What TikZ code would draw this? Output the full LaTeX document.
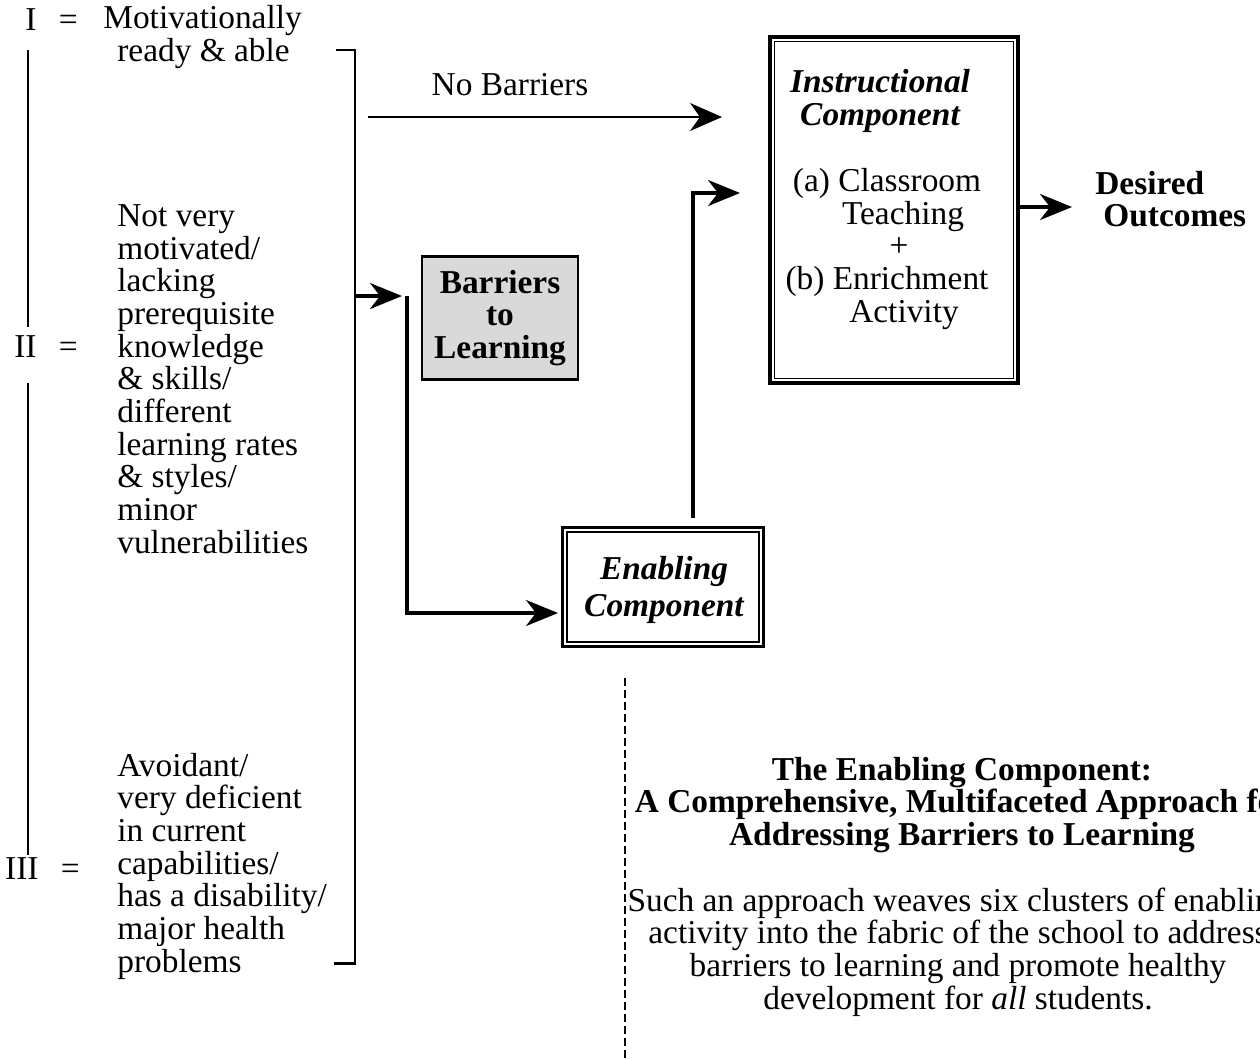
\documentclass[tikz,border=0pt]{standalone}
\usepackage{fontspec}
\setmainfont{Liberation Serif}
\usetikzlibrary{arrows.meta,positioning}
\tikzset{
    groupdesc/.style={
    anchor=west,align=left,inner sep=0pt
    },
    grouplabel/.style={
    anchor=base east,inner sep=0pt
    },
    barrierbox/.style={
    rectangle,draw=black,fill=black!15,line width=1.3pt,align=center,font=\bfseries,
    minimum width=3.12cm,minimum height=2.46cm
    },
    compbox/.style={
    rectangle,draw=black,line width=1.8pt,inner sep=0pt
    },
    innerline/.style={
    draw=black,line width=1pt
    },
    flow/.style={
    -{Stealth[length=0.64cm,width=0.52cm,inset=0.2cm]},line width=1.8pt
    },
    thinflow/.style={
    -{Stealth[length=0.64cm,width=0.56cm,inset=0.2cm]},line width=0.9pt
    },
    bar/.style={
    line width=1.7pt
    },
}
\begin{document}
\fontsize{19}{18.6}\selectfont
\begin{tikzpicture}[x=0.02cm,y=-0.02cm]
   \useasboundingbox (0,0) rectangle (1260,1059);
   % groups of students
   \node[grouplabel] (lblone) at (78,30) {I\enspace\,=};
   \node[groupdesc] (grpone) at (103,37) {Motivationally\\\hspace*{0.28cm}ready \& able};
   \node[groupdesc] (grptwo) at (117,379) {Not very\\motivated/\\lacking\\prerequisite\\knowledge\\\& skills/\\different\\learning rates\\\& styles/\\minor\\vulnerabilities};
   \node[grouplabel] (lbltwo) at (78,357) {II\enspace\,=};
   \node[groupdesc] (grpthree) at (117,866) {Avoidant/\\very deficient\\in current\\capabilities/\\has a disability/\\major health\\problems};
   \node[grouplabel] (lblthree) at (80,879) {III\enspace\,=};
   \draw[bar] (28,50) -- (28,327);
   \draw[bar] (28,383) -- (28,855);

   % bracket
   \coordinate (brtop) at (336,50);
   \coordinate (brbot) at (334,963);
   \coordinate (brmid) at (355,296);
   \coordinate (split) at (407,296);
   \draw[bar] (brtop) -- (355,50) -- (355,963) -- (brbot);

   % components
   \node[barrierbox] (barrier) at (500,318) {Barriers\\to\\Learning};
   \node[compbox,minimum width=4.02cm,minimum height=2.38cm] (enab) at (663,587) {};
   \draw[innerline] ([shift={(6,6)}]enab.north west) rectangle ([shift={(-6,-6)}]enab.south east);
   \node[align=center,font=\bfseries\itshape] (enabtxt) at (664,590) {Enabling\\[0.1cm]Component};
   \node[compbox,minimum width=4.96cm,minimum height=6.92cm] (instr) at (894,210) {};
   \draw[innerline] ([shift={(6,6)}]instr.north west) rectangle ([shift={(-6,-6)}]instr.south east);
   \node[align=center,font=\bfseries\itshape] (instrtitle) at (880,101) {Instructional\\Component};
   \node[align=center] (instrbody) at (887,249) {(a) Classroom\\\hspace*{0.64cm}Teaching\\\hspace*{0.48cm}+\\(b) Enrichment\\\hspace*{0.68cm}Activity};
   \node[anchor=west,align=left,inner sep=0pt,font=\bfseries] (desired) at (1095,199) {Desired\\\hspace*{0.16cm}Outcomes};

   % connectors
   \coordinate (nbstart) at (368,117);
   \coordinate (nbend) at (722,117);
   \node (nolabel) at (510,85) {No Barriers};
   \coordinate (enabin) at (558,613);
   \coordinate (enabout) at (693,518);
   \coordinate (instrin) at (740,193);
   \draw[thinflow] (nbstart) -- (nbend);
   \draw[flow,shorten >=0.1cm] (brmid) -- (split);
   \draw[flow] (split) |- (enabin);
   \draw[flow] (enabout) |- (instrin);
   \draw[flow,shorten >=0.46cm] (instr.east |- 0,207) -- (desired.west |- 0,207);

   % description
   \coordinate (dtop) at (625,678);
   \coordinate (dbot) at (625,1059);
   \draw[line width=1.3pt,dash pattern=on 0.16cm off 0.08cm] (dtop) -- (dbot);
   \node[align=center,font=\bfseries] (enabtitle) at (962,805) {The Enabling Component:\\A Comprehensive, Multifaceted Approach for\\Addressing Barriers to Learning};
   \node[align=center] (enabbody) at (958,952) {Such an approach weaves six clusters of enabling\\activity into the fabric of the school to address\\barriers to learning and promote healthy\\development for \textit{all} students.};
\end{tikzpicture}
\end{document}
